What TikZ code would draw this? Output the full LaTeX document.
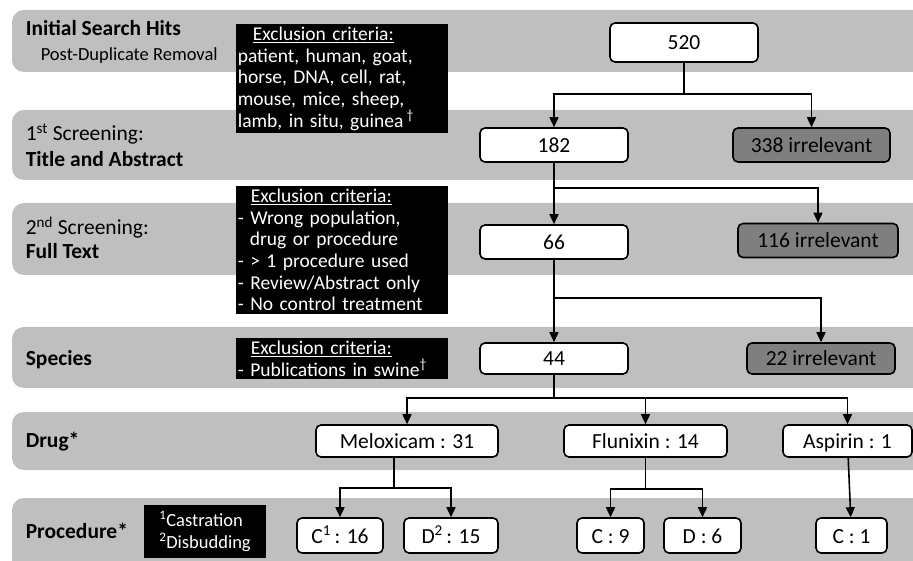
\documentclass[tikz,border=0pt]{standalone}
\usepackage{fontspec}
\setmainfont{Carlito}
\usetikzlibrary{arrows.meta}

\definecolor{bandgray}{RGB}{191,191,191}
\definecolor{irrgray}{RGB}{127,127,127}

\tikzset{
  band/.style={fill=bandgray, rounded corners=12pt},
  count/.style={draw, fill=white, rounded corners=5pt, inner sep=0pt,
    minimum height=34pt, text height=15pt, text depth=0pt,
    font=\fontsize{21.5}{24}\selectfont},
  irrel/.style={count, fill=irrgray},
  excl/.style={fill=black, text=white, anchor=north west, align=left,
    inner xsep=2pt, inner ysep=3pt, text width=208pt,
    font=\fontsize{19.5}{21.7}\selectfont},
  stage/.style={anchor=base west, inner sep=0pt, font=\fontsize{21.5}{26}\selectfont},
  flow/.style={-{Triangle[length=10pt,width=9pt]}}
}

\begin{document}
\begin{tikzpicture}[x=1pt, y=-1pt, line width=1.6pt]
  % Parameters
  \def\bl{12}    % Left edge of the bands
  \def\br{940}   % Right edge (cut off by the clip)
  \useasboundingbox (0,0) rectangle (913,561);
  \clip (0,0) rectangle (913,561);

  % Bands
  \fill[band] (\bl,10) rectangle (\br,72);
  \fill[band] (\bl,110) rectangle (\br,180);
  \fill[band] (\bl,203) rectangle (\br,275);
  \fill[band] (\bl,327) rectangle (\br,388);
  \fill[band] (\bl,412) rectangle (\br,470);
  \fill[band] (\bl,498) rectangle (\br,580);

  % Stage labels
  \node[stage] (hits) at (25,36) {\bfseries Initial Search Hits};
  \node[stage, font=\fontsize{18.5}{20}\selectfont] (dup) at (40,61) {Post-Duplicate Removal};
  \node[stage] (scr1) at (25,141) {1\textsuperscript{st} Screening:};
  \node[stage] (scr1b) at (25,167) {\bfseries Title and Abstract};
  \node[stage] (scr2) at (25,235) {2\textsuperscript{nd} Screening:};
  \node[stage] (scr2b) at (25,259) {\bfseries Full Text};
  \node[stage] (spec) at (25,365) {\bfseries Species};
  \node[stage] (drug) at (25,447) {\bfseries Drug*};
  \node[stage] (proc) at (25,538) {\bfseries Procedure*};

  % Exclusion criteria
  \node[excl] (excl1) at (235,23) {\hspace*{15pt}\underline{Exclusion criteria:}\\
    patient, human, goat,\\ horse, DNA, cell, rat,\\ mouse, mice, sheep,\\
    lamb, in situ, guinea\,\textsuperscript{\dag}};
  \node[excl] (excl2) at (235,185) {\hspace*{13pt}\underline{Exclusion criteria:}\\
    - Wrong population,\\ \hspace*{12pt}drug or procedure\\ - > 1 procedure used\\
    - Review/Abstract only\\ - No control treatment};
  \node[excl] (excl3) at (235,337) {\hspace*{13pt}\underline{Exclusion criteria:}\\
    - Publications in swine\textsuperscript{\dag}};
  \node[fill=black, text=white, align=left, minimum width=122pt, minimum height=53pt,
    font=\fontsize{18.5}{22}\selectfont] (legend) at (205,531.5)
    {\textsuperscript{1}Castration\\ \textsuperscript{2}Disbudding};

  % Counts
  \node[count, minimum width=148pt, minimum height=39pt] (n520) at (684,42.5) {520};
  \node[count, minimum width=148pt] (n182) at (554,145) {182};
  \node[irrel, minimum width=157pt] (n338) at (811.5,145) {338 irrelevant};
  \node[count, minimum width=148pt] (n66) at (554,242) {66};
  \node[irrel, minimum width=160pt] (n116) at (818,240.5) {116 irrelevant};
  \node[count, minimum width=148pt, minimum height=31pt] (n44) at (554,358.5) {44};
  \node[irrel, minimum width=148pt, minimum height=31pt] (n22) at (821,358.5) {22 irrelevant};

  % Drugs
  \node[count, minimum width=182pt, minimum height=32pt] (melox) at (407,441) {Meloxicam : 31};
  \node[count, minimum width=163pt, minimum height=32pt] (flun) at (645.5,441) {Flunixin : 14};
  \node[count, minimum width=129pt, minimum height=32pt] (asp) at (847.5,441) {Aspirin : 1};

  % Procedures
  \node[count, minimum width=86pt, minimum height=35pt] (c16) at (340,535.5) {C\textsuperscript{1}\,: 16};
  \node[count, minimum width=94pt, minimum height=35pt] (d15) at (451,535.5) {D\textsuperscript{2}\,: 15};
  \node[count, minimum width=67pt, minimum height=35pt] (c9) at (610.5,535.5) {C : 9};
  \node[count, minimum width=77pt, minimum height=35pt] (d6) at (702.5,535.5) {D : 6};
  \node[count, minimum width=71pt, minimum height=35pt] (c1) at (851.5,535.5) {C : 1};

  % Connectors
  \draw (n520.south) -- ++(0,31) coordinate (b1);
  \draw[flow] (b1) -| (n182);
  \draw[flow] (b1) -| (n338);
  \draw[flow] (n182) -- (n66);
  \path (n182.south) ++(0,25) coordinate (b2);
  \draw[flow] (b2) -| (n116);
  \draw[flow] (n66) -- (n44);
  \path (n66.south) ++(0,38) coordinate (b3);
  \draw[flow] (b3) -| (n22);
  \draw (n44.south) -- ++(0,23) coordinate (b4);
  \draw[flow] (b4) -| (melox);
  \draw[flow] (b4) -| (flun);
  \draw[flow] (b4) -| (asp);
  \path (melox.south) ++(-13,0) coordinate (m0);
  \draw (m0) -- ++(0,30) coordinate (b5);
  \draw[flow] (b5) -| (c16);
  \draw[flow] (b5) -| (d15);
  \draw (flun.south) -- ++(0,31) coordinate (b6);
  \draw[flow] (b6) -| (c9);
  \draw[flow] (b6) -| (d6);
  \draw[flow] (asp) -- (c1);
\end{tikzpicture}
\end{document}
